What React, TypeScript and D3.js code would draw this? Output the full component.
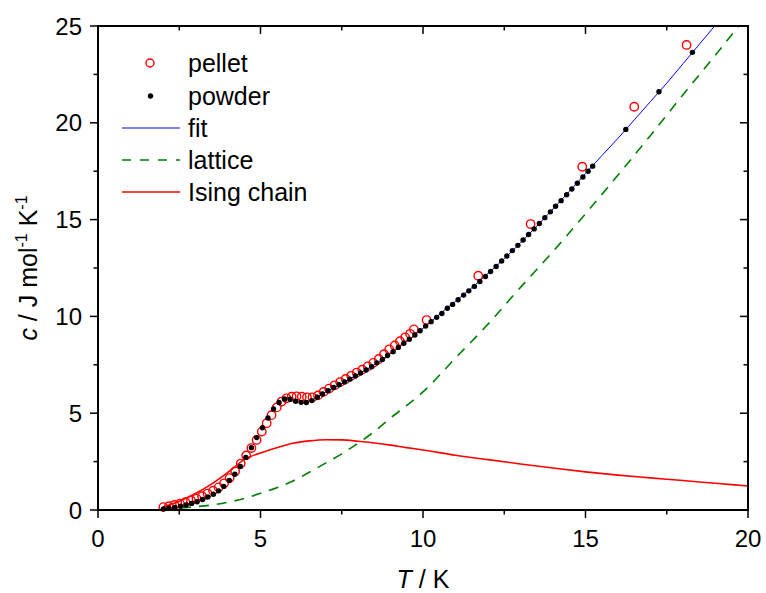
import React from "react";
import * as d3 from "d3";

const xTicks = [0, 5, 10, 15, 20];
const xMinor = [2.5, 7.5, 12.5, 17.5];
const yTicks = [0, 5, 10, 15, 20, 25];
const yMinor = [2.5, 7.5, 12.5, 17.5, 22.5];

const powderT = [2.01,2.18,2.36,2.54,2.71,2.88,3.05,3.22,3.38,3.55,3.71,3.87,4.04,4.21,4.38,4.55,4.72,4.88,5.06,5.23,5.40,5.57,5.74,5.91,6.08,6.25,6.41,6.58,6.75,6.91,7.08,7.25,7.42,7.59,7.75,7.92,8.08,8.25,8.42,8.58,8.75,8.91,9.08,9.24,9.41,9.58,9.75,9.91,10.08,10.25,10.42,10.58,10.75,10.91,11.08,11.25,11.41,11.58,11.75,11.92,12.08,12.25,12.42,12.58,12.75,12.92,13.08,13.25,13.42,13.58,13.75,13.92,14.08,14.25,14.42,14.58,14.75,14.92,15.08,15.22,16.24,17.26,18.29];
const powderC = [0.06,0.09,0.13,0.19,0.26,0.34,0.43,0.54,0.67,0.81,0.99,1.22,1.52,1.85,2.25,2.72,3.22,3.74,4.25,4.75,5.22,5.55,5.73,5.72,5.62,5.56,5.55,5.65,5.82,5.99,6.16,6.33,6.47,6.61,6.76,6.92,7.08,7.23,7.4,7.6,7.78,7.98,8.18,8.4,8.61,8.82,9.04,9.26,9.5,9.73,9.95,10.15,10.42,10.62,10.86,11.1,11.32,11.55,11.8,12.06,12.32,12.58,12.86,13.12,13.4,13.67,13.95,14.23,14.52,14.8,15.1,15.4,15.69,15.98,16.28,16.58,16.88,17.2,17.5,17.76,19.66,21.6,23.64];

const pelletT = [2.01,2.18,2.35,2.52,2.69,2.86,3.03,3.2,3.37,3.54,3.71,3.88,4.05,4.22,4.39,4.56,4.72,4.88,5.04,5.19,5.34,5.5,5.65,5.8,5.96,6.11,6.27,6.43,6.6,6.77,6.94,7.11,7.28,7.45,7.62,7.79,7.96,8.13,8.3,8.47,8.64,8.8,8.96,9.13,9.29,9.45,9.6,9.72,10.11,11.7,13.31,14.9,16.5,18.11];
const pelletC = [0.15,0.2,0.26,0.33,0.4,0.49,0.59,0.71,0.85,1.0,1.17,1.38,1.65,2.0,2.4,2.82,3.2,3.62,4.05,4.48,4.9,5.3,5.6,5.77,5.85,5.87,5.85,5.82,5.82,5.92,6.1,6.27,6.44,6.61,6.77,6.93,7.1,7.25,7.42,7.6,7.8,8.05,8.3,8.5,8.72,8.92,9.1,9.33,9.81,12.1,14.77,17.73,20.83,24.02];

const fitT = [6.6,7,7.5,8,8.5,9,9.5,10,10.5,11,11.5,12,12.5,13,13.5,14,14.5,15,15.5,16,16.5,17,17.5,18,18.5,19,19.5];
const fitC = [5.68,6.08,6.53,7.0,7.5,8.08,8.72,9.38,10.1,10.78,11.48,12.22,12.98,13.8,14.66,15.55,16.45,17.38,18.3,19.2,20.15,21.1,22.05,23.05,24.05,25.05,26.05];

const curveT = [2,2.5,3,3.5,4,4.5,5,5.5,6,6.5,7,7.5,8,8.5,9,9.5,10,11,12,13,14,15,16,17,18,19,20];
const latticeC = [0.05,0.1,0.17,0.26,0.4,0.6,0.86,1.15,1.5,1.95,2.42,2.9,3.45,4.05,4.75,5.4,6.1,7.85,9.6,11.5,13.35,15.3,17.3,19.35,21.45,23.5,25.6];
const isingC = [0.15,0.45,0.85,1.35,1.95,2.6,2.95,3.22,3.45,3.57,3.63,3.62,3.55,3.46,3.35,3.22,3.1,2.83,2.6,2.38,2.17,1.97,1.8,1.66,1.52,1.38,1.24];

const legendItems = ["pellet", "powder", "fit", "lattice", "Ising chain"];

const W = 766, H = 593;
const L = 98, R = 748, T0 = 26, B = 510;
const FONT = "'Liberation Sans', Arial, sans-serif";

export default function App() {
  const x = d3.scaleLinear().domain([0, 20]).range([L, R]);
  const y = d3.scaleLinear().domain([0, 25]).range([B, T0]);
  const line = d3.line<[number, number]>().x(d => x(d[0])).y(d => y(d[1])).curve(d3.curveMonotoneX);
  const zip = (a: number[], b: number[]) => a.map((v, i) => [v, b[i]] as [number, number]);

  const legY = [63, 96, 128, 160, 192];

  return (
    <svg width={W} height={H} style={{ position: "absolute", left: 0, top: 0 }} fontFamily={FONT}>
      <rect x={0} y={0} width={W} height={H} fill="#fff" />
      <defs>
        <clipPath id="plot"><rect x={L} y={T0} width={R - L} height={B - T0} /></clipPath>
      </defs>
      <g clipPath="url(#plot)">
        <path d={line(zip(curveT, latticeC)) || ""} fill="none" stroke="#008000" strokeWidth={1.6} strokeDasharray="10,8" />
        <path d={line(zip(curveT, isingC)) || ""} fill="none" stroke="#ff0000" strokeWidth={1.6} />
        <path d={line(zip(fitT, fitC)) || ""} fill="none" stroke="#0000ff" strokeWidth={1} />
      </g>
      {pelletT.map((t, i) => (
        <circle key={"p" + i} cx={x(t)} cy={y(pelletC[i])} r={4.2} fill="none" stroke="#ff0000" strokeWidth={1.4} />
      ))}
      {powderT.map((t, i) => (
        <circle key={"d" + i} cx={x(t)} cy={y(powderC[i])} r={2.7} fill="#000" />
      ))}
      <rect x={L} y={T0} width={R - L} height={B - T0} fill="none" stroke="#000" strokeWidth={2} />
      {xTicks.map(v => (
        <g key={"xt" + v}>
          <line x1={x(v)} x2={x(v)} y1={B} y2={B + 8} stroke="#000" strokeWidth={1.5} />
          <line x1={x(v)} x2={x(v)} y1={T0} y2={T0 + 8} stroke="#000" strokeWidth={1.5} />
          <text x={x(v)} y={547} fontSize={24} textAnchor="middle">{v}</text>
        </g>
      ))}
      {xMinor.map(v => (
        <g key={"xm" + v}>
          <line x1={x(v)} x2={x(v)} y1={B} y2={B + 4.5} stroke="#000" strokeWidth={1.5} />
          <line x1={x(v)} x2={x(v)} y1={T0} y2={T0 + 4.5} stroke="#000" strokeWidth={1.5} />
        </g>
      ))}
      {yTicks.map(v => (
        <g key={"yt" + v}>
          <line x1={L - 8} x2={L} y1={y(v)} y2={y(v)} stroke="#000" strokeWidth={1.5} />
          <line x1={R - 8} x2={R} y1={y(v)} y2={y(v)} stroke="#000" strokeWidth={1.5} />
          <text x={82} y={y(v) + 8.5} fontSize={24} textAnchor="end">{v}</text>
        </g>
      ))}
      {yMinor.map(v => (
        <g key={"ym" + v}>
          <line x1={L - 4.5} x2={L} y1={y(v)} y2={y(v)} stroke="#000" strokeWidth={1.5} />
          <line x1={R - 4.5} x2={R} y1={y(v)} y2={y(v)} stroke="#000" strokeWidth={1.5} />
        </g>
      ))}
      <text x={(L + R) / 2} y={588} fontSize={25} textAnchor="middle">
        <tspan fontStyle="italic">T</tspan> / K
      </text>
      <text transform={`translate(37,${(T0 + B) / 2}) rotate(-90)`} fontSize={25} textAnchor="middle">
        <tspan fontStyle="italic">c</tspan> / J mol<tspan fontSize={16} dy={-10}>-1</tspan><tspan dy={10}> K</tspan><tspan fontSize={16} dy={-10}>-1</tspan>
      </text>
      <circle cx={150} cy={legY[0]} r={4} fill="none" stroke="#ff0000" strokeWidth={1.4} />
      <circle cx={150.5} cy={legY[1]} r={2.7} fill="#000" />
      <line x1={122} x2={180} y1={legY[2]} y2={legY[2]} stroke="#0000ff" strokeWidth={1} />
      <line x1={122} x2={180} y1={legY[3]} y2={legY[3]} stroke="#008000" strokeWidth={1.6} strokeDasharray="9,9" />
      <line x1={122} x2={180} y1={legY[4]} y2={legY[4]} stroke="#ff0000" strokeWidth={1.6} />
      {legendItems.map((s, i) => (
        <text key={s} x={188} y={legY[i] + 8.5} fontSize={25}>{s}</text>
      ))}
    </svg>
  );
}
